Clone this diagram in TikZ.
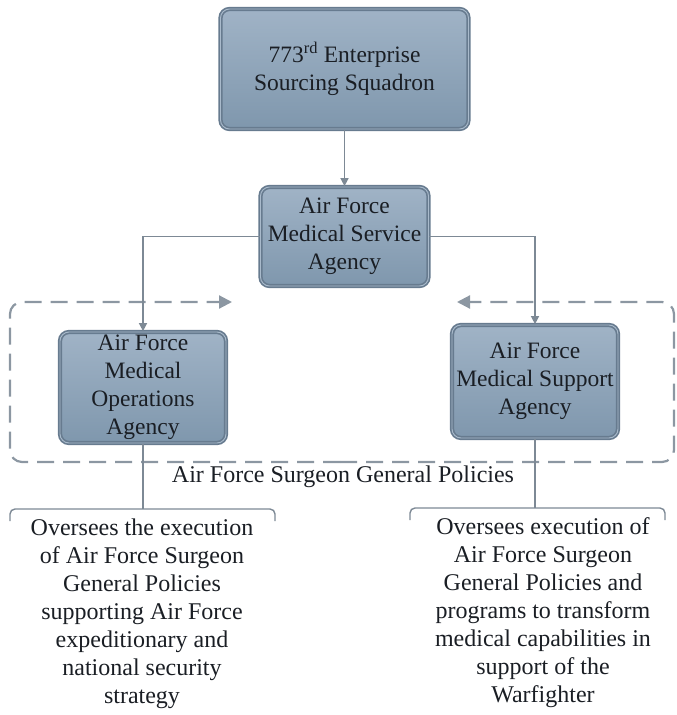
\documentclass[tikz,border=0pt]{standalone}
\usepackage{fontspec}
\setmainfont{Liberation Serif}
\usetikzlibrary{arrows.meta}
\definecolor{boxtop}{HTML}{A0B3C6}
\definecolor{boxbot}{HTML}{7F97AD}
\definecolor{boxedge}{HTML}{677B8F}
\definecolor{boxinner}{HTML}{A9BACB}
\definecolor{conn}{HTML}{7D8995}
\definecolor{dashc}{HTML}{8C97A2}
\definecolor{txt}{HTML}{1A1E24}
\tikzset{
  orgbox/.style={rounded corners=9pt, top color=boxtop, bottom color=boxbot,
    draw=boxedge, double=boxinner, double distance=0.9pt, line width=1.7pt,
    align=center, text=txt, font=\fontsize{23.5}{28}\selectfont, inner sep=2pt},
  link/.style={draw=conn, line width=1.4pt, -{Triangle[length=8pt,width=8pt]}},
  plainlink/.style={draw=conn, line width=1.4pt},
  dashbox/.style={draw=dashc, line width=2.2pt, dash pattern=on 17pt off 9pt,
    rounded corners=12pt, -{Triangle[length=13pt,width=13pt]}},
  bracket/.style={draw=conn, line width=1.4pt, rounded corners=5pt},
  desc/.style={align=center, text=txt, font=\fontsize{24}{28}\selectfont, inner sep=0pt}
}
\begin{document}
\begin{tikzpicture}[x=1pt,y=-1pt]
\useasboundingbox (0,0) rectangle (677,715);
% nodes
\node[orgbox, minimum width=248pt, minimum height=120pt] (top) at (344.5,69)
  {773\textsuperscript{rd} Enterprise\\Sourcing Squadron};
\node[orgbox, minimum width=168pt, minimum height=99pt] (afmsa) at (344.5,236.5)
  {Air Force\\Medical Service\\Agency};
\node[orgbox, minimum width=166pt, minimum height=111pt] (afmoa) at (143,387.5)
  {Air Force\\Medical\\Operations\\Agency};
\node[orgbox, minimum width=166pt, minimum height=113pt] (afmspa) at (535,381.5)
  {Air Force\\Medical Support\\Agency};
\node[desc] (policy) at (343,477) {Air Force Surgeon General Policies};
\node[desc] (ldesc) at (142,614)
  {Oversees the execution\\of Air Force Surgeon\\General Policies\\supporting Air Force\\expeditionary and\\national security\\strategy};
\node[desc] (rdesc) at (543,613)
  {Oversees execution of\\Air Force Surgeon\\General Policies and\\programs to transform\\medical capabilities in\\support of the\\Warfighter};
% coordinates
\coordinate (dbm) at (340,462);
\coordinate (dl) at (232,302);
\coordinate (dr) at (457,302);
\coordinate (lb) at (143,509);
\coordinate (rb) at (535,508);
% dashed group
\draw[dashbox] (dbm) -- (10,462) -- (10,302) -- (dl);
\draw[dashbox] (dbm) -- (674,462) -- (674,302) -- (dr);
% connectors
\draw[link] (top.south) -- (afmsa.north);
\draw[link] (afmsa.west) -| (afmoa.north);
\draw[link] (afmsa.east) -| (afmspa.north);
\draw[plainlink] (afmoa.south) -- (lb);
\draw[plainlink] (afmspa.south) -- (rb);
% brackets
\draw[bracket] (10,521) -- (10,509) -- (275,509) -- (275,521);
\draw[bracket] (410,520) -- (410,508) -- (665,508) -- (665,520);
\end{tikzpicture}
\end{document}
